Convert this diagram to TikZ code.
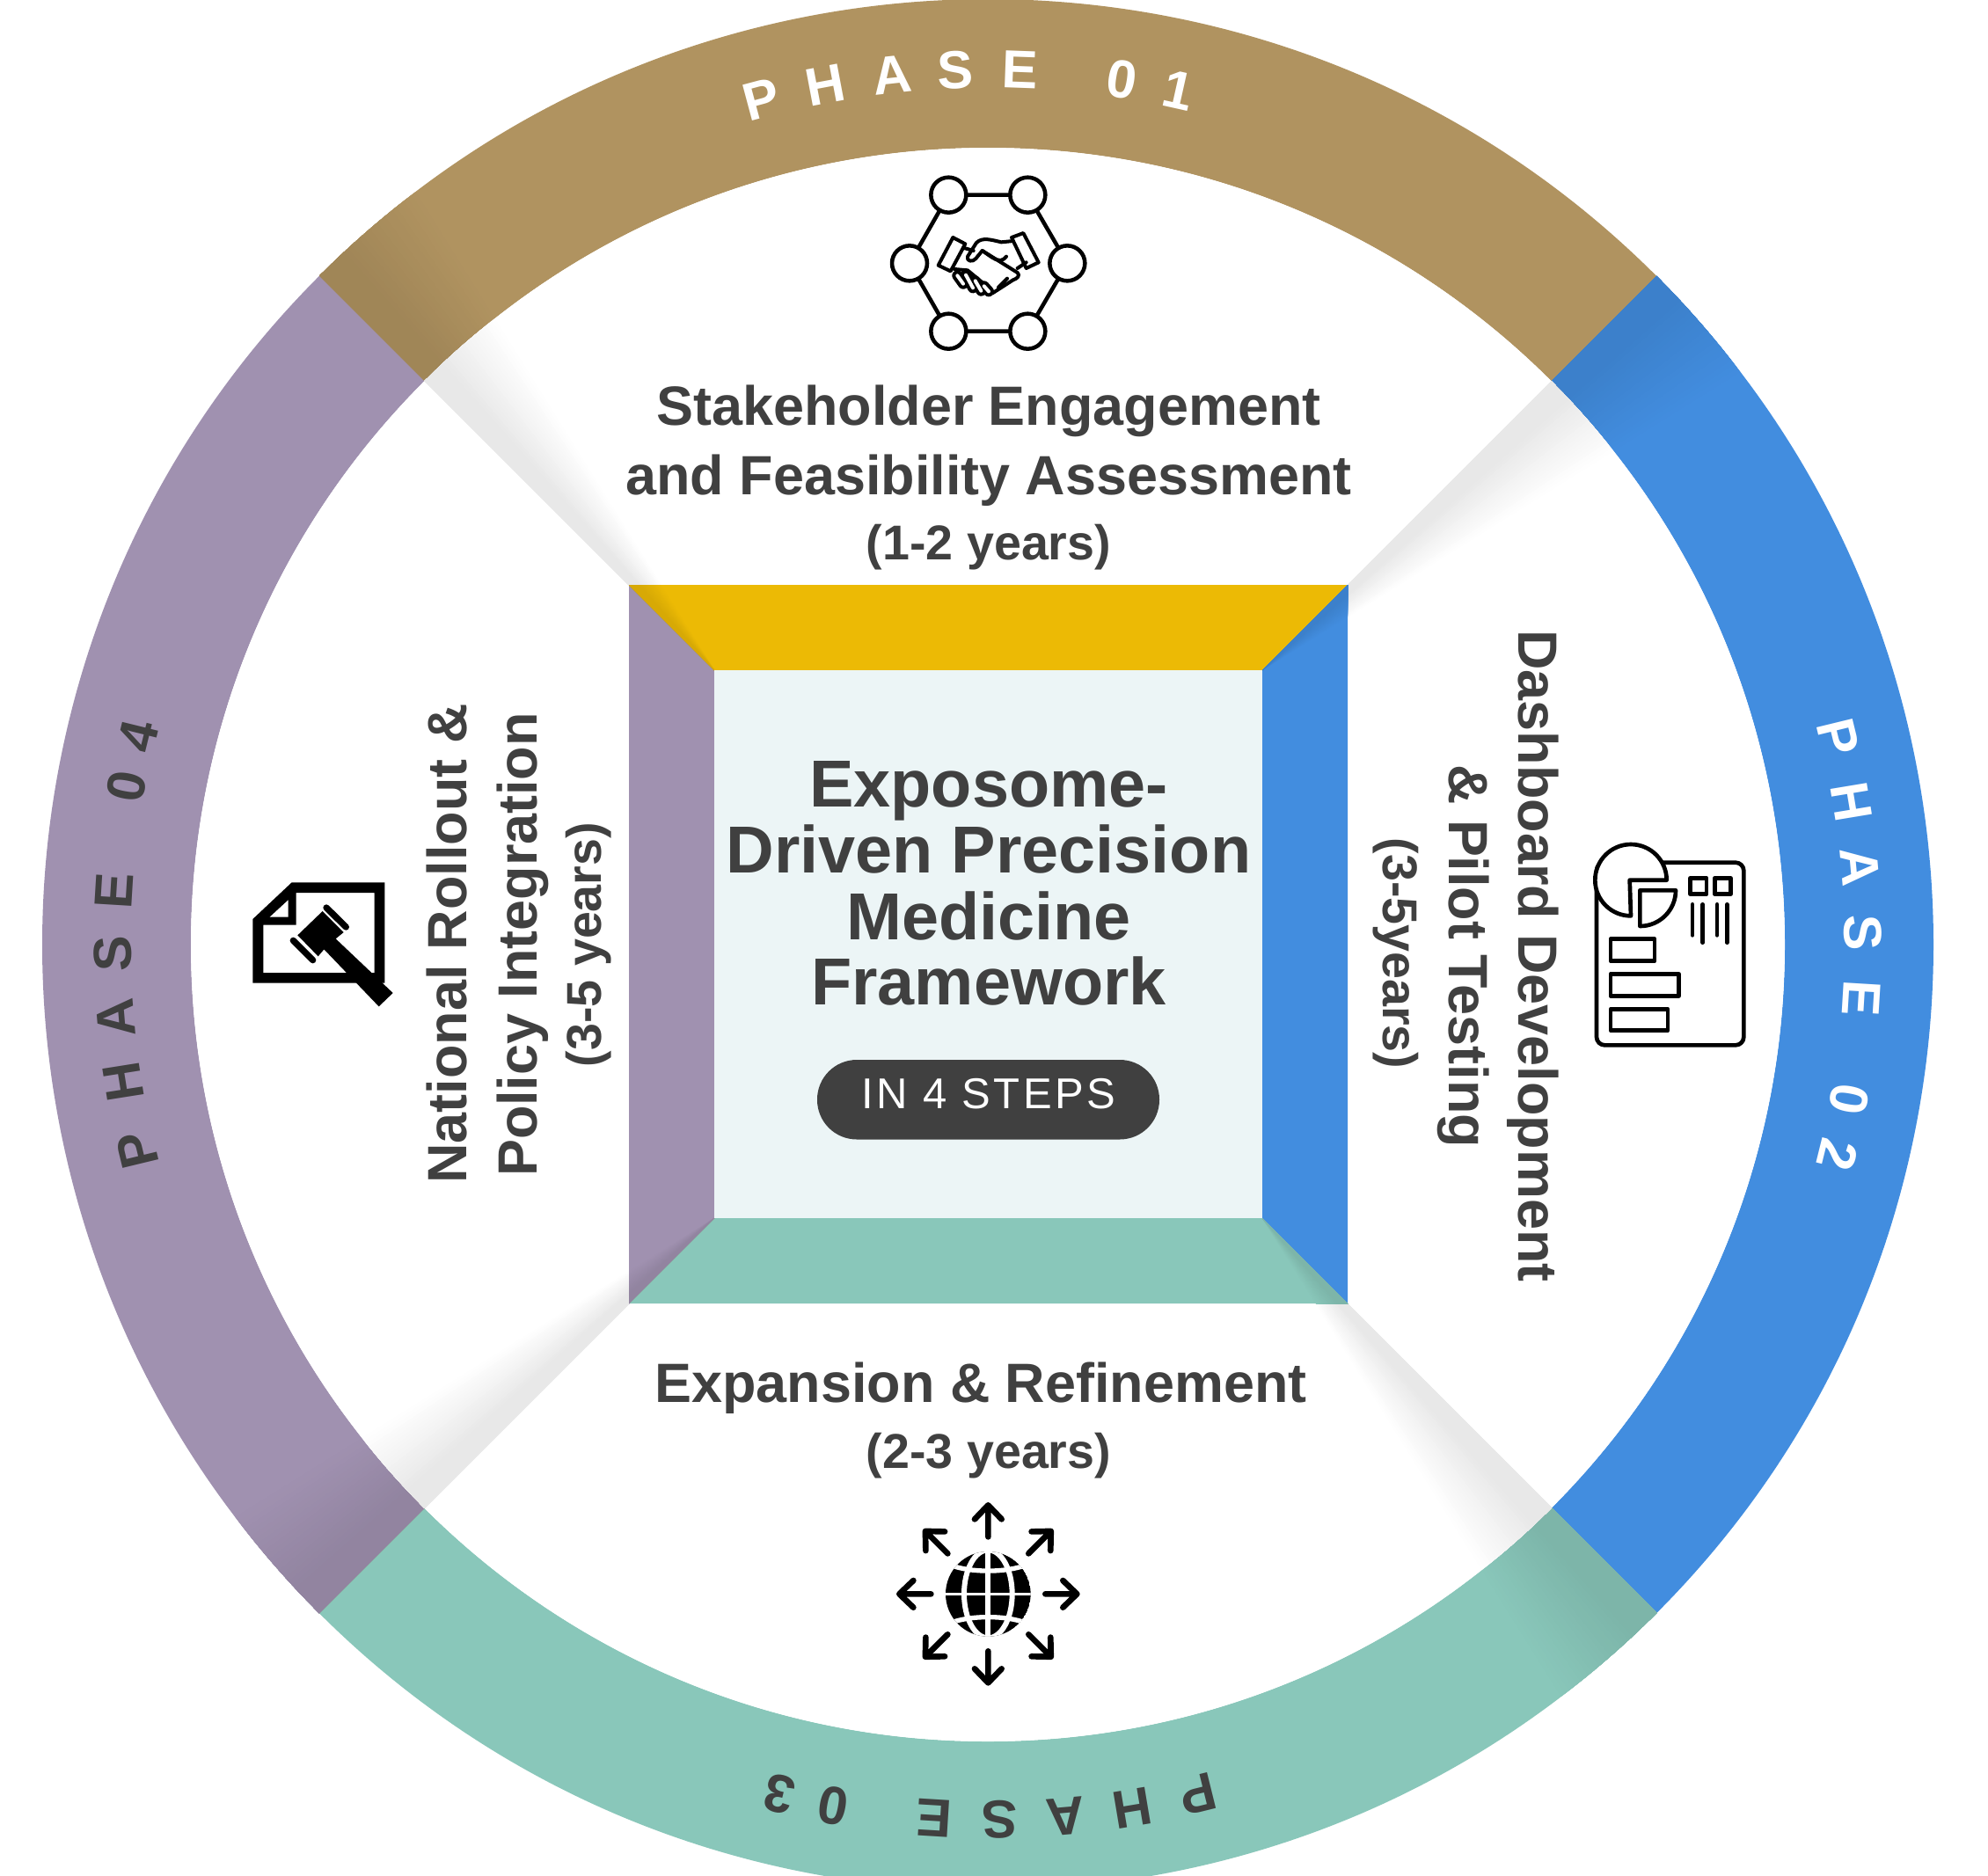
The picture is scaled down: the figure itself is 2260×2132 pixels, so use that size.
\documentclass[tikz,border=0pt]{standalone}
\usepackage{fontspec}
\setmainfont{Liberation Sans}
\usetikzlibrary{calc}
\definecolor{brownc}{HTML}{B09360}
\definecolor{bluec}{HTML}{428DDF}
\definecolor{tealc}{HTML}{89C7BA}
\definecolor{purplec}{HTML}{A091B0}
\definecolor{yellowc}{HTML}{ECBA05}
\definecolor{corec}{HTML}{ECF5F6}
\definecolor{inkc}{HTML}{404040}
\newcommand{\pxfont}[1]{\fontsize{\fpeval{#1*0.75}}{\fpeval{#1*0.9}}\selectfont}
\tikzset{
  label text/.style={inner sep=0pt,anchor=base,text=inkc,font=\pxfont{62.9}\bfseries},
  small text/.style={inner sep=0pt,anchor=base,text=inkc,font=\pxfont{55.6}\bfseries},
  title text/.style={inner sep=0pt,anchor=base,text=inkc,font=\pxfont{75.6}\bfseries},
  phase letter/.style={inner sep=0pt,anchor=center,font=\pxfont{61}\bfseries},
  icon/.style={x=0.25pt,y=-0.25pt},
  iconline/.style={draw=black,line join=round,line cap=round},
}
\newcommand{\sector}[3]{%
  \fill[#1] ($(c)+(#2:1075)$) arc[start angle=#2,end angle=#3,radius=1075]
     -- ($(c)+(#3:906)$) arc[start angle=#3,end angle=#2,radius=906] -- cycle;}
\newcommand{\fan}[3]{%
  \foreach \k in {0,...,19}{
    \pgfmathsetmacro{\sp}{#2+13-0.5*\k}
    \pgfmathsetmacro{\pc}{0.45*(\k+1)}
    \fill[black!\pc!#3] (#1) -- ($(#1)+(#2:1700)$) -- ($(#1)+(\sp:1700)$) -- cycle;
  }}
\newcommand{\phaseword}[3]{% base angle, colour, letters
  \foreach \ch/\rel [count=\n] in {#3}{
    \pgfmathsetmacro{\th}{#1+\rel}
    \pgfmathsetmacro{\ro}{-\th}
    \node[phase letter,text=#2,rotate=\ro] (ph#1n\n) at ($(c)+(\th-90:995)$) {\ch};
  }}
\begin{document}
\begin{tikzpicture}[x=0.75pt,y=-0.75pt]
\useasboundingbox (0,0) rectangle (2260,2132);
\clip (0,0) rectangle (2260,2132);
\fill[white] (0,0) rectangle (2260,2132);
\coordinate (c) at (1123,1074);
\coordinate (stl) at (812,762);
\coordinate (str) at (1435,762);
\coordinate (sbr) at (1435,1385);
\coordinate (sbl) at (812,1385);
% ring with its shadows
\sector{brownc}{225}{315}
\sector{bluec}{-45}{45}
\sector{tealc}{45}{135}
\sector{purplec}{135}{225}
\begin{scope}
\clip (c) circle (1075);
\fan{stl}{225}{brownc}
\fan{str}{-45}{bluec}
\fan{sbr}{45}{tealc}
\fan{sbl}{135}{purplec}
\end{scope}
% the white disk with its shadows
\fill[white] (c) circle (906);
\begin{scope}
\clip (c) circle (906);
\fan{stl}{225}{white}
\fan{str}{-45}{white}
\fan{sbr}{45}{white}
\fan{sbl}{135}{white}
\end{scope}
% frame of the square with its shadows
\fill[yellowc] (715,665) -- (1532,665) -- (1435,762) -- (812,762) -- cycle;
\fill[bluec] (1532,665) -- (1532,1482) -- (1435,1385) -- (1435,762) -- cycle;
\fill[tealc] (1532,1482) -- (715,1482) -- (812,1385) -- (1435,1385) -- cycle;
\fill[purplec] (715,1482) -- (715,665) -- (812,762) -- (812,1385) -- cycle;
\begin{scope}
\clip (715,665) rectangle (1532,1482);
\fan{stl}{225}{yellowc}
\fan{str}{-45}{bluec}
\fan{sbr}{45}{tealc}
\fan{sbl}{135}{purplec}
\end{scope}
% core
\fill[corec] (812,762) rectangle (1435,1385);
\node[title text] (t1) at (1124,917) {Exposome-};
\node[title text] (t2) at (1124,992.5) {Driven Precision};
\node[title text] (t3) at (1124,1068) {Medicine};
\node[title text] (t4) at (1124,1142) {Framework};
\fill[inkc,rounded corners=33.75pt] (929,1205) rectangle (1318,1295.5);
\node[inner sep=0pt,anchor=base,text=white,font=\pxfont{49}\addfontfeature{LetterSpace=7}] (pill) at (1124,1260) {IN 4 STEPS};
% phase labels
\phaseword{0}{white}{P/-15,H/-10.7,A/-6.3,S/-2.1,E/2.1,0/8.8,1/12.6}
\phaseword{90}{white}{P/-13.7,H/-9.4,A/-5.1,S/-0.8,E/3.5,0/10.2,2/13.9}
\phaseword{180}{inkc}{P/-13.9,H/-9.5,A/-5.1,S/-0.8,E/3.5,0/10.2,3/13.8}
\phaseword{270}{inkc}{P/-13.6,H/-9,A/-4.8,S/-0.6,E/3.5,0/10.4,4/13.8}
% top text
\node[label text] (a1) at (1124,483) {Stakeholder Engagement};
\node[label text] (a2) at (1124,562) {and Feasibility Assessment};
\node[small text] (a3) at (1124,636) {(1-2 years)};
% bottom text
\node[label text] (b1) at (1115,1594) {Expansion \& Refinement};
\node[small text] (b2) at (1124,1669) {(2-3 years)};
% right text
\node[label text,rotate=-90] (r1) at (1726,1087) {Dashboard Development};
\node[label text,rotate=-90] (r2) at (1647,1087) {\& Pilot Testing};
\node[small text,rotate=-90] (r3) at (1572,1084) {(3-5years)};
% left text
\node[label text,rotate=90] (l1) at (530,1073) {National Rollout \&};
\node[label text,rotate=90] (l2) at (610,1074) {Policy Integration};
\node[small text,rotate=90] (l3) at (683,1074) {(3-5 years)};
% handshake icon
\begin{scope}[shift={(960,170)},icon]
  \draw[iconline,line width=3.4pt] (355,155) -- (625,155) -- (760,388) -- (625,620) -- (355,620) -- (222,388) -- cycle;
  \foreach \px/\py in {355/155,625/155,222/388,760/388,355/620,625/620}
    \draw[iconline,fill=white,line width=3.4pt] (\px,\py) circle (60);
  \draw[iconline,line width=3pt] (370,300) -- (412,322) -- (362,415) -- (320,395) -- cycle;
  \draw[iconline,line width=3pt] (610,285) -- (662,385) -- (620,405) -- (570,300) -- cycle;
  \draw[iconline,line width=3pt] (575,312) -- (535,316) .. controls (500,308) and (470,298) .. (450,318) -- (420,365) .. controls (415,382) and (438,385) .. (448,372) -- (470,345) -- (590,420) .. controls (600,430) and (590,440) .. (575,445) -- (505,490);
  \draw[iconline,line width=3pt] (470,345) .. controls (500,365) and (530,395) .. (552,365);
  \draw[iconline,line width=3pt] (405,335) -- (440,345);
  \draw[iconline,line width=3pt] (590,405) -- (620,385);
  \draw[iconline,line width=3pt] (375,408) -- (420,412) -- (490,470);
  \draw[iconline,line width=3pt] (525,470) -- (555,440);
  \foreach \ax/\ay/\bx/\by in {385/430/405/458,414/428/438/472,446/448/466/482,476/466/492/484}
    \draw[black,line cap=round,line width=9pt] (\ax,\ay) -- (\bx,\by);
  \foreach \ax/\ay/\bx/\by in {385/430/405/458,414/428/438/472,446/448/466/482,476/466/492/484}
    \draw[white,line cap=round,line width=3pt] (\ax,\ay) -- (\bx,\by);
\end{scope}
% dashboard icon
\begin{scope}[shift={(1780,930)},icon]
  \draw[iconline,rounded corners=7pt,line width=3.5pt] (105,152) rectangle (607,775);
  \draw[iconline,fill=white,line width=3.5pt] (344,212) arc[start angle=0,end angle=-270,radius=122] -- (218,212) -- cycle;
  \draw[iconline,fill=white,line width=3.5pt] (253,247) -- (375,247) arc[start angle=0,end angle=90,radius=122] -- cycle;
  \draw[iconline,line width=3.5pt] (425,205) rectangle (480,260);
  \draw[iconline,line width=3.5pt] (508,205) rectangle (562,260);
  \draw[iconline,line width=3.5pt] (432,295) -- (432,400) (467,295) -- (467,425) (516,295) -- (516,400) (550,295) -- (550,425);
  \draw[iconline,line width=3.5pt] (153,413) rectangle (303,488);
  \draw[iconline,line width=3.5pt] (153,532) rectangle (385,607);
  \draw[iconline,line width=3.5pt] (153,652) rectangle (348,725);
\end{scope}
% globe icon
\begin{scope}[shift={(990,1690)},icon]
  \begin{scope}
    \clip (400,367) circle (145);
    \fill[black] (400,367) circle (145);
    \draw[white,line width=4.5pt] (400,200) -- (400,530);
    \draw[white,line width=2pt] (240,367) -- (560,367);
    \draw[white,line width=4.5pt] (400,367) ellipse (82 and 150);
    \draw[white,line width=4pt] (270,268) .. controls (340,295) and (460,295) .. (530,268);
    \draw[white,line width=4pt] (270,466) .. controls (340,439) and (460,439) .. (530,466);
  \end{scope}
  \foreach \ang in {0,45,...,315}{
    \begin{scope}[shift={(400,367)},rotate=\ang]
      \draw[iconline,line width=5pt] (195,0) -- (303,0) (255,-46) -- (303,0) -- (255,46);
    \end{scope}
  }
\end{scope}
% gavel icon
\begin{scope}[shift={(270,980)},icon]
  \fill[black,even odd rule] (52,195) -- (185,70) -- (502,70) -- (502,413) -- (52,413) -- cycle
     (88,215) -- (200,215) -- (200,105) -- (467,105) -- (467,378) -- (88,378) -- cycle;
  \fill[white] (110,188) -- (173,188) -- (173,130) -- cycle;
  \fill[black] (290,168) -- (362,240) -- (335,262) -- (530,447) -- (482,493) -- (295,298) -- (275,322) -- (205,250) -- cycle;
  \draw[black,line cap=round,line width=5.5pt] (303,156) -- (370,222);
  \draw[black,line cap=round,line width=5.5pt] (190,268) -- (257,335);
\end{scope}
\end{tikzpicture}
\end{document}
